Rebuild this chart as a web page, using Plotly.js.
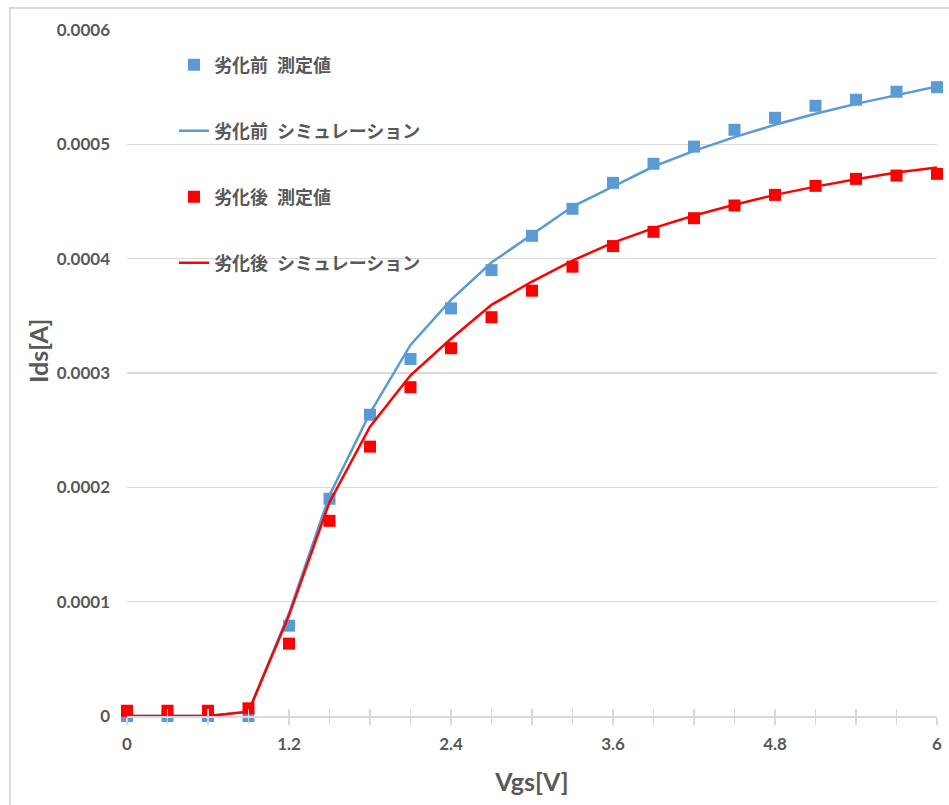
<!DOCTYPE html>
<html>
<head>
<meta charset="utf-8">
<script src="https://cdn.plot.ly/plotly-3.0.1.min.js"></script>
<style>
  html, body { margin: 0; padding: 0; background: #ffffff; overflow: hidden; }
  #wrap { position: relative; width: 949px; height: 805px; }
  #chart { position: absolute; left: 0; top: 0; width: 949px; height: 805px; }
  #frame { position: absolute; left: 9px; top: 7px; width: 960px; height: 820px;
           border: 2px solid #dcdcdc; pointer-events: none; box-sizing: border-box; }
</style>
</head>
<body>
<div id="wrap">
  <div id="chart"></div>
  <div id="frame"></div>
</div>
<script>
// ---- data ----
const vgs = [0, 0.3, 0.6, 0.9, 1.2, 1.5, 1.8, 2.1, 2.4, 2.7, 3.0, 3.3, 3.6, 3.9, 4.2, 4.5, 4.8, 5.1, 5.4, 5.7, 6.0];

const beforeMeasured = [0, 0, 0, 0, 7.9e-5, 1.90e-4, 2.635e-4, 3.123e-4, 3.565e-4, 3.90e-4, 4.20e-4,
  4.436e-4, 4.663e-4, 4.83e-4, 4.98e-4, 5.127e-4, 5.232e-4, 5.337e-4, 5.39e-4, 5.46e-4, 5.50e-4];

const beforeSim = [0, 0, 0, 3.8e-6, 9.0e-5, 1.93e-4, 2.65e-4, 3.246e-4, 3.64e-4, 3.966e-4, 4.214e-4,
  4.456e-4, 4.63e-4, 4.806e-4, 4.943e-4, 5.063e-4, 5.171e-4, 5.267e-4, 5.354e-4, 5.433e-4, 5.506e-4];

const afterMeasured = [4.6e-6, 4.6e-6, 4.6e-6, 6.7e-6, 6.33e-5, 1.707e-4, 2.356e-4, 2.876e-4, 3.217e-4, 3.488e-4, 3.72e-4,
  3.93e-4, 4.11e-4, 4.235e-4, 4.354e-4, 4.465e-4, 4.558e-4, 4.637e-4, 4.698e-4, 4.727e-4, 4.742e-4];

const afterSim = [0, 0, 0, 3.8e-6, 8.8e-5, 1.87e-4, 2.53e-4, 2.98e-4, 3.30e-4, 3.596e-4, 3.80e-4,
  3.983e-4, 4.141e-4, 4.267e-4, 4.377e-4, 4.471e-4, 4.558e-4, 4.63e-4, 4.695e-4, 4.753e-4, 4.797e-4];

const seriesNames = ['劣化前\u2002測定値', '劣化前\u2002シミュレーション', '劣化後\u2002測定値', '劣化後\u2002シミュレーション'];
const yTickVals = [0, 0.0001, 0.0002, 0.0003, 0.0004, 0.0005, 0.0006];
const yTickText = ['0', '0.0001', '0.0002', '0.0003', '0.0004', '0.0005', '0.0006'];
const xTitle = 'Vgs[V]';
const yTitle = 'Ids[A]';

// ---- styles ----
const BLUE = '#5B9BD5';
const RED = '#FF0000';
const GRAY = '#595959';
const GRID = '#d9d9d9';
const tickFont = { family: 'Lato, "Noto Sans", sans-serif', size: 17, color: GRAY, weight: 'bold' };
const legFont = { family: '"Noto Sans CJK JP", sans-serif', size: 18, color: GRAY, weight: 'bold' };

const traces = [
  { x: vgs, y: beforeMeasured, name: seriesNames[0], type: 'scatter', mode: 'markers',
    marker: { symbol: 'square', size: 12, color: BLUE }, cliponaxis: false, legend: 'legend' },
  { x: vgs, y: beforeSim, name: seriesNames[1], type: 'scatter', mode: 'lines',
    line: { color: BLUE, width: 2.5 }, cliponaxis: false, legend: 'legend2' },
  { x: vgs, y: afterMeasured, name: seriesNames[2], type: 'scatter', mode: 'markers',
    marker: { symbol: 'square', size: 12, color: RED }, cliponaxis: false, legend: 'legend3' },
  { x: vgs, y: afterSim, name: seriesNames[3], type: 'scatter', mode: 'lines',
    line: { color: RED, width: 2.5 }, cliponaxis: false, legend: 'legend4' },
  { x: [], y: [], xaxis: 'x2', yaxis: 'y', showlegend: false, hoverinfo: 'skip' }
];

const L = 127, R = 12, T = 30, B = 89;
const plotW = 949 - L - R, plotH = 805 - T - B;
function px2x(px) { return (px - L) / plotW; }
function px2y(py) { return (805 - B - py) / plotH; }

function legendAt(cy) {
  return { x: px2x(174), y: px2y(cy), xanchor: 'left', yanchor: 'middle',
           bgcolor: 'rgba(0,0,0,0)', borderwidth: 0, font: legFont };
}

const layout = {
  width: 949, height: 805,
  margin: { l: L, r: R, t: T, b: B },
  paper_bgcolor: '#ffffff', plot_bgcolor: '#ffffff',
  showlegend: true,
  legend: legendAt(65),
  legend2: legendAt(131),
  legend3: legendAt(197),
  legend4: legendAt(263),
  xaxis: {
    range: [0, 6], tick0: 0, dtick: 1.2,
    showgrid: false, zeroline: false,
    showline: true, linecolor: GRID, linewidth: 1.5,
    ticks: 'outside', ticklen: 7, tickcolor: GRID, tickwidth: 1.5,
    minor: { dtick: 0.3, tick0: 0, ticks: 'outside', ticklen: 7, tickcolor: GRID, tickwidth: 1.5, showgrid: false },
    tickfont: tickFont, ticklabelstandoff: 5,
    title: { text: xTitle, font: { family: 'Lato, sans-serif', size: 25, color: GRAY, weight: 'bold' }, standoff: 20 }
  },
  xaxis2: {
    overlaying: 'x', anchor: 'y', side: 'bottom',
    range: [0, 6], tick0: 0, dtick: 1.2,
    showgrid: false, zeroline: false, showline: false, showticklabels: false,
    ticks: 'inside', ticklen: 7, tickcolor: GRID, tickwidth: 1.5,
    minor: { dtick: 0.3, tick0: 0, ticks: 'inside', ticklen: 7, tickcolor: GRID, tickwidth: 1.5, showgrid: false }
  },
  yaxis: {
    range: [0, 0.0006],
    tickvals: yTickVals, ticktext: yTickText,
    showgrid: true, gridcolor: GRID, gridwidth: 1.5,
    zeroline: false, showline: false, ticks: '',
    tickfont: tickFont, ticklabelstandoff: 16
  },
  annotations: [
    { text: yTitle, xref: 'paper', yref: 'paper', x: px2x(38), y: px2y(351),
      xanchor: 'center', yanchor: 'middle', textangle: -90, showarrow: false,
      font: { family: 'Lato, sans-serif', size: 25, color: GRAY, weight: 'bold' } }
  ]
};

Plotly.newPlot('chart', traces, layout, { displayModeBar: false, staticPlot: true });
</script>
</body>
</html>
